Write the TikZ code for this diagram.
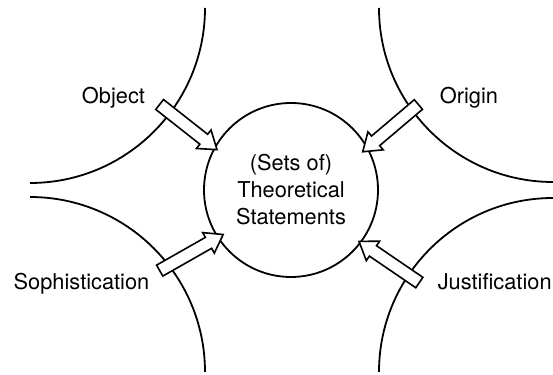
\documentclass[tikz,border=0pt]{standalone}
\usepackage{fontspec}
\setmainfont{TeX Gyre Heros}
\usetikzlibrary{shapes.arrows}

\begin{document}
\begin{tikzpicture}[x=0.5pt,y=0.5pt,
        every node/.style = {font=\fontsize{10.9}{13.5}\selectfont},
        fat arrow/.style = {draw,line width=0.8pt,fill=white,single arrow,
            single arrow head extend=2.75pt,single arrow tip angle=70,
            inner xsep=0pt,inner ysep=2.75pt,minimum width=0pt,minimum height=36.5pt,
            sloped,allow upside down,pos=0,anchor=tail}]
    \useasboundingbox (0,0) rectangle (553,375);

    % the four outer areas
    \draw[line width=0.9pt] (205,367) arc[start angle=0,end angle=-90,radius=175];
    \draw[line width=0.9pt] (379,367) arc[start angle=180,end angle=270,radius=174];
    \draw[line width=0.9pt] (30,178) arc[start angle=90,end angle=0,radius=175];
    \draw[line width=0.9pt] (379,3) arc[start angle=180,end angle=90,radius=174];

    \node[draw,circle,line width=0.9pt,minimum size=87pt,inner sep=0pt,align=center]
        (stmt) at (291,185) {(Sets of)\\Theoretical\\Statements};

    \node[anchor=base] (obj) at (113.5,271) {Object};
    \node[anchor=base] (orig) at (469,271) {Origin};
    \node[anchor=base] (soph) at (81.5,85) {Sophistication};
    \node[anchor=base east,inner xsep=0pt] (just) at (552,85) {Justification};

    \coordinate (objtail) at (159,271);
    \coordinate (origtail) at (419,271);
    \coordinate (sophtail) at (159,104);
    \coordinate (justtail) at (420,92);

    \path (objtail) -- (stmt.151) node[fat arrow] {};
    \path (origtail) -- (stmt.29) node[fat arrow] {};
    \path (sophtail) -- (stmt.213) node[fat arrow] {};
    \path (justtail) -- (stmt.323) node[fat arrow] {};
\end{tikzpicture}
\end{document}
